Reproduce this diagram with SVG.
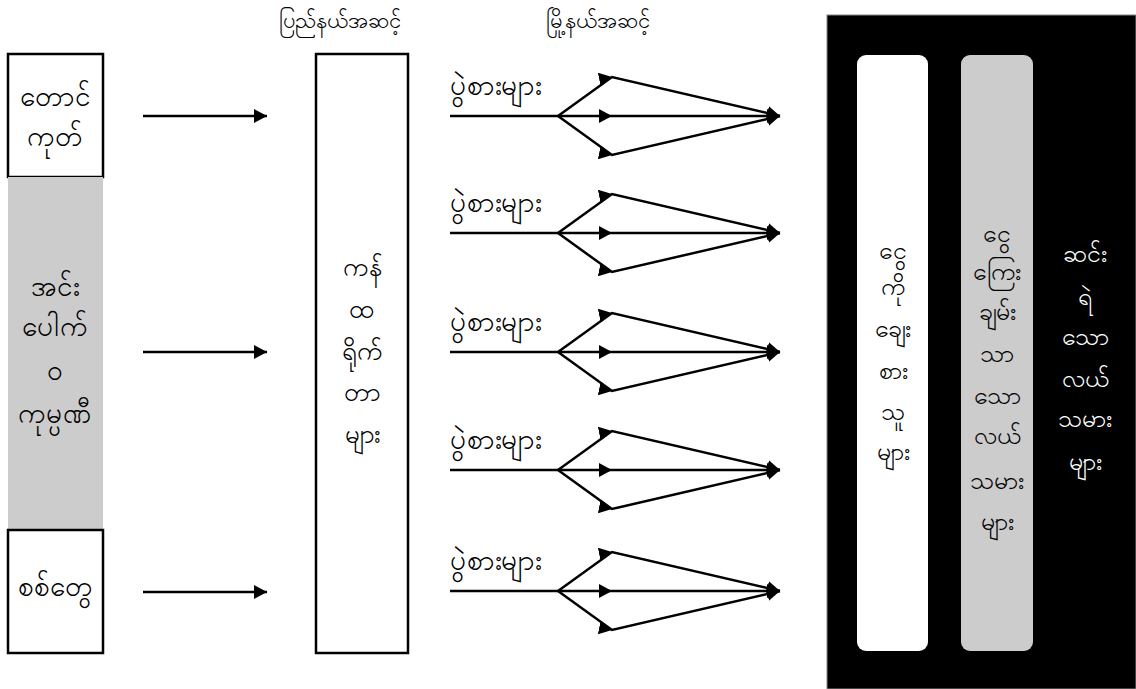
<svg xmlns="http://www.w3.org/2000/svg" width="1136" height="689" viewBox="0 0 1136 689">
<style>
text{font-family:"Noto Sans",sans-serif;font-size:28px;text-anchor:middle;fill:#000}
.hd{font-size:22px}
.c{font-size:25px}
.m{font-size:26px}
.w{fill:#fff}
.lb{text-anchor:start}
.box{fill:#fff;stroke:#000;stroke-width:2.5}
.ln{fill:none;stroke:#000;stroke-width:2.5}
</style>
<defs>
<marker id="ah" markerWidth="13" markerHeight="14" refX="13" refY="7" orient="auto" markerUnits="userSpaceOnUse">
<path d="M0,0 L13,7 L0,14 Z" fill="#000"/>
</marker>
</defs>
<rect width="1136" height="689" fill="#fff"/>
<text class="hd" x="340" y="28">ပြည်နယ်အဆင့်</text>
<text class="hd" x="598" y="28">မြို့နယ်အဆင့်</text>
<g id="n-taungkut"><rect class="box" x="8" y="54" width="95" height="123"/><text x="55" y="106">တောင်</text><text x="55" y="146">ကုတ်</text></g>
<g id="n-inbaung"><rect x="8" y="177" width="95" height="353" fill="#cccccc"/><text x="55" y="296">အင်း</text><text x="55" y="336">ပေါက်</text><text x="55" y="380">ဝ</text><text x="55" y="423">ကုမ္ပဏီ</text></g>
<g id="n-sittwe"><rect class="box" x="8" y="530" width="95" height="123"/><text x="55" y="596">စစ်တွေ</text></g>
<g id="n-contractors"><rect class="box" x="316" y="54" width="92" height="599"/><text class="m" x="362" y="276">ကန်</text><text class="m" x="362" y="318">ထ</text><text class="m" x="362" y="360">ရိုက်</text><text class="m" x="362" y="401">တာ</text><text class="m" x="362" y="443">များ</text></g>
<g id="n-right"><rect x="827" y="15" width="309" height="674" fill="#000" stroke="#888" stroke-width="1"/>
<g id="n-lenders"><rect x="857" y="55" width="71" height="596" rx="9" fill="#fff"/><text class="c" x="893" y="259">ငွေ</text><text class="c" x="893" y="295">ကို</text><text class="c" x="893" y="337">ချေး</text><text class="c" x="893" y="379">စား</text><text class="c" x="893" y="420">သူ</text><text class="c" x="893" y="460">များ</text></g>
<g id="n-rich"><rect x="961" y="55" width="72" height="596" rx="9" fill="#cccccc"/><text class="c" x="997" y="242">ငွေ</text><text class="c" x="997" y="280">ကြေး</text><text class="c" x="997" y="320">ချမ်း</text><text class="c" x="997" y="362">သာ</text><text class="c" x="997" y="404">သော</text><text class="c" x="997" y="444">လယ်</text><text class="c" x="997" y="489">သမား</text><text class="c" x="997" y="530">များ</text></g>
<g id="n-poor"><text class="c w" x="1085" y="262">ဆင်း</text><text class="c w" x="1085" y="305">ရဲ</text><text class="c w" x="1085" y="345">သော</text><text class="c w" x="1085" y="387">လယ်</text><text class="c w" x="1085" y="427">သမား</text><text class="c w" x="1085" y="470">များ</text></g>
</g>
<g id="labels"><text class="lb" x="450" y="95">ပွဲစားများ</text><text class="lb" x="450" y="212">ပွဲစားများ</text><text class="lb" x="450" y="331">ပွဲစားများ</text><text class="lb" x="450" y="449">ပွဲစားများ</text><text class="lb" x="450" y="570">ပွဲစားများ</text></g>
<g id="connectors">
<path class="ln" d="M143,116 H267" marker-end="url(#ah)"/>
<path class="ln" d="M143,352 H267" marker-end="url(#ah)"/>
<path class="ln" d="M143,592 H267" marker-end="url(#ah)"/>
<g id="fan1"><path class="ln" d="M450,116 H558"/><path class="ln" d="M558,116 L612,77 L780,116" marker-mid="url(#ah)" marker-end="url(#ah)"/><path class="ln" d="M558,116 L612,116 L780,116" marker-mid="url(#ah)" marker-end="url(#ah)"/><path class="ln" d="M558,116 L612,155 L780,116" marker-mid="url(#ah)" marker-end="url(#ah)"/></g>
<g id="fan2" transform="translate(0,117)"><path class="ln" d="M450,116 H558"/><path class="ln" d="M558,116 L612,77 L780,116" marker-mid="url(#ah)" marker-end="url(#ah)"/><path class="ln" d="M558,116 L612,116 L780,116" marker-mid="url(#ah)" marker-end="url(#ah)"/><path class="ln" d="M558,116 L612,155 L780,116" marker-mid="url(#ah)" marker-end="url(#ah)"/></g>
<g id="fan3" transform="translate(0,236)"><path class="ln" d="M450,116 H558"/><path class="ln" d="M558,116 L612,77 L780,116" marker-mid="url(#ah)" marker-end="url(#ah)"/><path class="ln" d="M558,116 L612,116 L780,116" marker-mid="url(#ah)" marker-end="url(#ah)"/><path class="ln" d="M558,116 L612,155 L780,116" marker-mid="url(#ah)" marker-end="url(#ah)"/></g>
<g id="fan4" transform="translate(0,354)"><path class="ln" d="M450,116 H558"/><path class="ln" d="M558,116 L612,77 L780,116" marker-mid="url(#ah)" marker-end="url(#ah)"/><path class="ln" d="M558,116 L612,116 L780,116" marker-mid="url(#ah)" marker-end="url(#ah)"/><path class="ln" d="M558,116 L612,155 L780,116" marker-mid="url(#ah)" marker-end="url(#ah)"/></g>
<g id="fan5" transform="translate(0,475)"><path class="ln" d="M450,116 H558"/><path class="ln" d="M558,116 L612,77 L780,116" marker-mid="url(#ah)" marker-end="url(#ah)"/><path class="ln" d="M558,116 L612,116 L780,116" marker-mid="url(#ah)" marker-end="url(#ah)"/><path class="ln" d="M558,116 L612,155 L780,116" marker-mid="url(#ah)" marker-end="url(#ah)"/></g>
</g>
</svg>
